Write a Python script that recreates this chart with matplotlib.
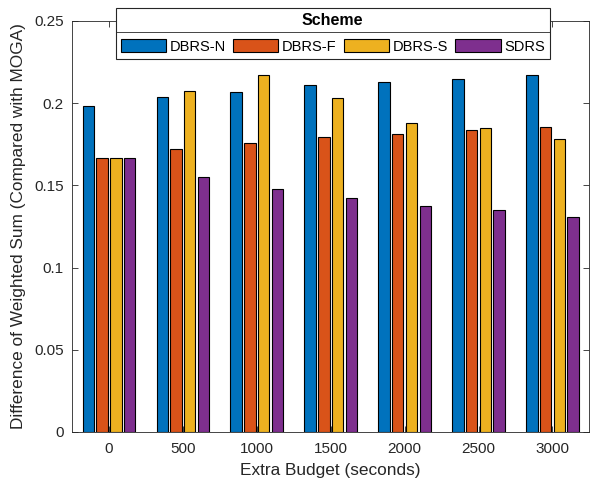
import matplotlib
matplotlib.use("Agg")
import matplotlib.pyplot as plt
import numpy as np
from matplotlib.lines import Line2D

plt.rcParams['font.family'] = ['Liberation Sans', 'DejaVu Sans']

# --- data ---
budgets = ['0', '500', '1000', '1500', '2000', '2500', '3000']
schemes = ['DBRS-N', 'DBRS-F', 'DBRS-S', 'SDRS']
dbrs_n = [0.1985, 0.2035, 0.207, 0.211, 0.213, 0.215, 0.217]
dbrs_f = [0.1667, 0.172, 0.1755, 0.1795, 0.1815, 0.1835, 0.1855]
dbrs_s = [0.1667, 0.2075, 0.217, 0.203, 0.188, 0.185, 0.1785]
sdrs = [0.1667, 0.155, 0.148, 0.1425, 0.1375, 0.135, 0.131]
colors = ['#0072BD', '#D95319', '#EDB120', '#7E2F8E']

series = [dbrs_n, dbrs_f, dbrs_s, sdrs]

fig = plt.figure(figsize=(5.9, 4.83), dpi=100)
ax = fig.add_axes([0.122, 0.1056, 0.877, 0.851])

x = np.arange(1, len(budgets) + 1)
step = 0.186
width = 0.155
for i, (vals, col) in enumerate(zip(series, colors)):
    ax.bar(x + (i - 1.5) * step, vals, width, color=col,
           edgecolor='black', linewidth=0.8, label=schemes[i])

ax.set_xlim(0.5, 7.5)
ax.set_ylim(0, 0.25)
ax.set_xticks(x)
ax.set_xticklabels(budgets)
ax.set_yticks([0, 0.05, 0.1, 0.15, 0.2, 0.25])
ax.set_yticklabels(['0', '0.05', '0.1', '0.15', '0.2', '0.25'])
ax.tick_params(direction='in', top=True, right=True, length=4,
               labelsize=11, colors='#262626', width=0.6)
ax.tick_params(axis='x', pad=7)
ax.tick_params(axis='y', pad=6)
for s in ax.spines.values():
    s.set_color('#262626')
    s.set_linewidth(0.6)

ax.set_xlabel('Extra Budget (seconds)', fontsize=12.4, color='#262626',
              labelpad=5)
ax.set_ylabel('Difference of Weighted Sum (Compared with MOGA)', fontsize=12.4,
              color='#262626', labelpad=6)

leg = ax.legend(ncol=4, loc='center', bbox_to_anchor=(0.504, 0.9696),
                title='Scheme', title_fontproperties={'weight': 'bold', 'size': 11.5},
                fontsize=10.5, frameon=True, fancybox=False, edgecolor='#262626',
                framealpha=1, handlelength=3.1, handleheight=1.0,
                handletextpad=0.25, columnspacing=0.5, borderpad=0.35,
                labelspacing=0.3, borderaxespad=0)
leg.get_frame().set_linewidth(0.8)
leg.set_zorder(5)
leg._legend_box.sep = 8

fig.canvas.draw()
bb = leg.get_window_extent()
title_bb = leg.get_title().get_window_extent()
ysep = title_bb.y0 - 4
inv = fig.transFigure.inverted()
(x0, y0) = inv.transform((bb.x0, ysep))
(x1, _) = inv.transform((bb.x1, ysep))
sep = Line2D([x0, x1], [y0, y0], transform=fig.transFigure, color='#262626',
             linewidth=0.6, zorder=10)
fig.add_artist(sep)

fig.savefig('out.png', dpi=100)
